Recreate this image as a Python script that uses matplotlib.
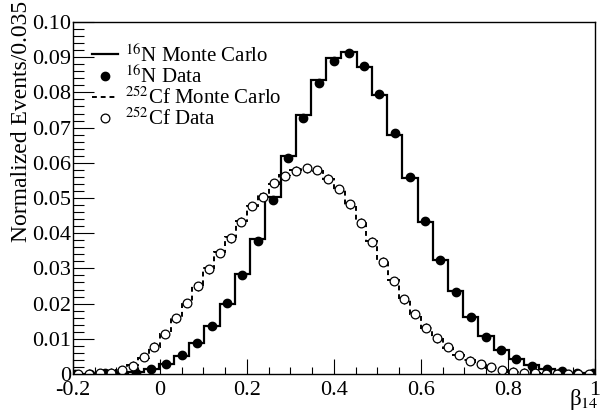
import numpy as np
import matplotlib
matplotlib.use("Agg")
import matplotlib.pyplot as plt
from matplotlib.lines import Line2D
from matplotlib.ticker import MultipleLocator

plt.rcParams['font.family'] = ['Liberation Serif', 'DejaVu Serif']
plt.rcParams['mathtext.fontset'] = 'stix'

# 16N: 35 bins of width 0.035
n16_edges_start = -0.2125
n16_width = 0.035
n16_data = [0.0, 0.0, 0.0002, 0.0003, 0.0004, 0.0013, 0.0028, 0.0053, 0.0087, 0.0136,
            0.0201, 0.0281, 0.0379, 0.0493, 0.0613, 0.0728, 0.0826, 0.0889, 0.0913, 0.0875,
            0.0795, 0.0686, 0.0559, 0.0435, 0.0325, 0.0234, 0.0161, 0.0106, 0.0068, 0.0042,
            0.0024, 0.0013, 0.0008, 0.0004, 0.0002]
n16_mc = [0.0, 0.0001, 0.0002, 0.0003, 0.0005, 0.0013, 0.0029, 0.0052, 0.0087, 0.0135,
          0.0200, 0.0283, 0.0383, 0.0502, 0.0620, 0.0736, 0.0835, 0.0899, 0.0916, 0.0873,
          0.0792, 0.0679, 0.0556, 0.0431, 0.0324, 0.0235, 0.0162, 0.0107, 0.0069, 0.0043,
          0.0025, 0.0014, 0.0008, 0.0004, 0.0002]

# 252Cf: 48 bins of width 0.025
cf_edges_start = -0.2
cf_width = 0.025
cf_data = [0.0, 0.0001, 0.0002, 0.0004, 0.0011, 0.0024, 0.0048, 0.0078, 0.0113, 0.0158,
           0.0201, 0.0249, 0.0297, 0.0344, 0.0385, 0.0433, 0.0478, 0.0504, 0.0543, 0.0563,
           0.0578, 0.0584, 0.0580, 0.0555, 0.0525, 0.0482, 0.0430, 0.0376, 0.0319, 0.0264,
           0.0212, 0.0170, 0.0132, 0.0101, 0.0076, 0.0054, 0.0038, 0.0028, 0.0019, 0.0011,
           0.0007, 0.0004, 0.0002, 0.0001, 0.0001, 0.0, 0.0, 0.0]
cf_mc = [0.0, 0.0001, 0.0002, 0.0005, 0.0012, 0.0025, 0.0046, 0.0076, 0.0114, 0.0160,
         0.0205, 0.0252, 0.0300, 0.0347, 0.0390, 0.0436, 0.0478, 0.0512, 0.0541, 0.0565,
         0.0580, 0.0583, 0.0576, 0.0554, 0.0522, 0.0480, 0.0432, 0.0377, 0.0321, 0.0266,
         0.0215, 0.0170, 0.0131, 0.0099, 0.0074, 0.0054, 0.0039, 0.0027, 0.0018, 0.0012,
         0.0007, 0.0004, 0.0002, 0.0001, 0.0001, 0.0, 0.0, 0.0]
cf_err = 0.0012

n16_edges = n16_edges_start + n16_width * np.arange(len(n16_data) + 1)
n16_x = n16_edges[:-1] + n16_width / 2
cf_edges = cf_edges_start + cf_width * np.arange(len(cf_data) + 1)
cf_x = cf_edges[:-1] + cf_width / 2

fig = plt.figure(figsize=(6.02, 4.11), dpi=100)
ax = fig.add_axes([0.121, 0.090, 0.867, 0.8565])

ax.stairs(n16_mc, n16_edges, color='black', lw=1.6, baseline=None)
ax.stairs(cf_mc, cf_edges, color='black', lw=1.4, ls=(0, (2.5, 2)), baseline=None)
ax.plot(n16_x, n16_data, 'o', color='black', ms=6)
ax.errorbar(cf_x, cf_data, yerr=cf_err, fmt='o', mfc='white', mec='black', ecolor='black',
            ms=6.3, mew=0.9, elinewidth=0.8, capsize=0)

ax.set_xlim(-0.2, 1.0)
ax.set_ylim(0, 0.1)
ax.xaxis.set_minor_locator(MultipleLocator(0.05))
ax.yaxis.set_minor_locator(MultipleLocator(0.002))
ax.set_xticks([-0.2, 0, 0.2, 0.4, 0.6, 0.8, 1.0])
ax.set_xticklabels(['-0.2', '0', '0.2', '0.4', '0.6', '0.8', '1'])
ax.set_yticks(np.arange(0, 0.101, 0.01))
ax.set_yticklabels(['0'] + ['%.2f' % v for v in np.arange(0.01, 0.101, 0.01)])
ax.tick_params(axis='both', which='both', direction='in', top=False, right=False,
               labelsize=16, width=0.8)
ax.tick_params(axis='y', which='major', length=15, pad=1)
ax.tick_params(axis='y', which='minor', length=8)
ax.tick_params(axis='x', which='major', length=11, pad=5)
ax.tick_params(axis='x', which='minor', length=5)
for s in ax.spines.values():
    s.set_linewidth(1.0)

fig.text(22 / 602, 1 - 1 / 411, 'Normalized Events/0.035', rotation=90,
         ha='center', va='top', fontsize=17)
ax.text(1.008, -0.037, r'β$_{14}$', transform=ax.transAxes, ha='right', va='top',
        fontsize=16.5)

handles = [
    Line2D([], [], color='black', lw=1.6),
    Line2D([], [], color='black', marker='o', ls='none', ms=6),
    Line2D([], [], color='black', lw=1.4, ls=(0, (2.5, 2))),
    Line2D([], [], color='black', marker='o', ls='none', ms=6.3, mfc='white', mew=0.9),
]
labels = [r'$^{16}$N Monte Carlo', r'$^{16}$N Data', r'$^{252}$Cf Monte Carlo',
          r'$^{252}$Cf Data']
ax.legend(handles, labels, loc='upper left', bbox_to_anchor=(0.036, 0.937), frameon=False,
          fontsize=15, handlelength=1.25, handletextpad=0.35, labelspacing=-0.03,
          borderaxespad=0, borderpad=0)

fig.savefig('out.png', dpi=100)
